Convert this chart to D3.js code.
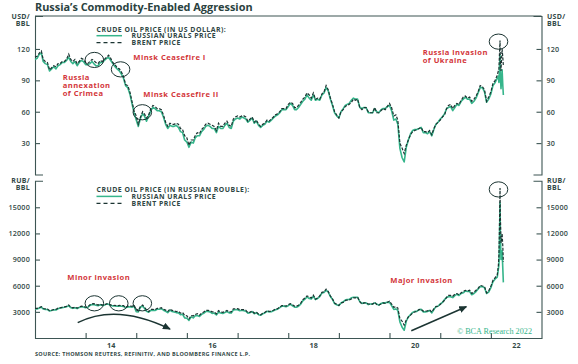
<!DOCTYPE html>
<html>
<head>
<meta charset="utf-8">
<script src="https://cdn.jsdelivr.net/npm/d3@7"></script>
<style>
  body { margin: 0; background: #fff; }
  svg { display: block; font-family: "Open Sans", Lato, sans-serif; }
</style>
</head>
<body>
<div id="chart"></div>
<script>
// semi-monthly observations (1st and 16th of each month), Jan 2013 - Feb 2022
const brentUsd = [
  112,113,116,118,110,108,107,100,102,104,103,106,106,108,108,110,115,110,108,110,106,108,111,110,
  107,106,108,110,109,107,106,109,108,110,112,114,111,107,105,102,101,98,94,86,85,79,70,61,
  56,48,55,60,58,54,57,63,66,65,63,63,62,57,50,46,49,48,48,49,48,44,43,37,
  35,28,33,33,37,40,39,43,45,48,49,48,47,46,42,49,46,46,49,51,47,46,53,55,
  56,55,56,56,55,51,53,55,50,52,48,46,48,49,52,51,53,55,57,58,60,63,63,63,
  67,69,68,64,64,66,69,72,74,78,76,73,78,72,73,72,77,79,85,81,73,67,60,57,
  54,60,62,65,66,67,69,72,71,72,64,62,64,64,60,59,59,64,59,59,61,63,62,65,
  68,64,56,57,52,30,25,20,28,33,38,41,42,43,44,45,41,41,40,42,38,44,48,50,
  52,55,57,63,66,67,63,66,68,67,71,74,75,73,74,70,72,75,79,85,84,81,70,74,
  79,87,90,95
];
const uralsUsd = [
  110,111,115,116,108,106,105,99,101,103,101,104,105,107,107,109,112,108,106,108,104,107,109,108,
  105,105,106,108,106,104,104,107,107,109,111,112,109,106,103,101,99,96,92,85,83,77,68,59,
  52,46,54,58,56,51,56,61,64,63,61,61,60,55,48,44,47,46,46,47,45,41,40,33,
  31,26,31,30,35,37,37,41,43,46,47,46,44,44,40,46,44,44,47,49,45,44,51,53,
  54,53,55,54,53,50,52,54,49,51,47,45,47,48,51,50,52,54,56,57,59,62,62,62,
  65,68,66,62,62,64,67,70,72,76,73,71,76,71,72,71,76,78,83,80,72,66,59,56,
  54,60,63,66,67,68,71,73,72,72,64,63,64,64,59,59,59,63,60,59,62,63,63,65,
  66,61,52,53,48,25,16,12,26,33,39,42,43,43,44,45,40,40,39,41,37,43,48,50,
  53,55,58,63,64,65,61,64,67,66,70,72,74,72,72,68,70,73,78,83,83,79,69,72,
  77,85,88,92
];
const brentRub = [
  3394,3390,3480,3599,3388,3348,3328,3130,3182,3266,3275,3424,3466,3521,3564,3630,3795,3542,3467,3542,3434,3542,3652,3630,
  3531,3562,3802,3905,3946,3873,3784,3880,3780,3806,3920,3933,3796,3724,3738,3672,3737,3724,3713,3500,3655,3674,3640,3782,
  3248,3120,3630,3780,3538,3240,3021,3276,3300,3250,3402,3402,3472,3306,3200,3036,3332,3168,3120,3038,3072,2860,2924,2590,
  2555,2184,2574,2541,2701,2800,2613,2838,2970,3168,3185,3120,3008,2990,2772,3136,2990,2944,3038,3162,3008,2990,3339,3355,
  3360,3245,3248,3248,3190,2907,2968,3080,2850,2964,2736,2668,2832,2940,3120,3060,3074,3190,3306,3364,3540,3717,3717,3654,
  3819,3933,3808,3648,3648,3762,4002,4392,4588,4836,4712,4599,4914,4464,4599,4824,5236,5293,5610,5346,4818,4489,4020,3876,
  3726,4020,4092,4290,4356,4355,4485,4608,4615,4680,4160,3906,4032,4032,3900,3894,3894,4096,3835,3776,3904,4032,3968,4095,
  4216,3904,3528,3591,3432,2220,1925,1480,2072,2409,2622,2870,2982,3053,3256,3285,3075,3075,3120,3234,2964,3344,3600,3650,
  3848,4070,4332,4662,4884,4891,4788,5016,5100,4958,5183,5328,5475,5402,5476,5110,5256,5475,5688,6035,5964,5913,5180,5402,
  5925,6612,6930,7220
];
const uralsRub = [
  3333,3330,3450,3538,3326,3286,3266,3099,3151,3234,3212,3359,3434,3488,3531,3597,3696,3478,3403,3478,3370,3510,3586,3564,
  3465,3528,3731,3834,3837,3765,3713,3809,3745,3771,3885,3864,3728,3689,3667,3636,3663,3648,3634,3460,3569,3581,3536,3658,
  3016,2990,3564,3654,3416,3060,2968,3172,3200,3150,3294,3294,3360,3190,3072,2904,3196,3036,2990,2914,2880,2665,2720,2310,
  2263,2028,2418,2310,2555,2590,2479,2706,2838,3036,3055,2990,2816,2860,2640,2944,2860,2816,2914,3038,2880,2860,3213,3233,
  3240,3127,3190,3132,3074,2850,2912,3024,2793,2907,2679,2610,2773,2880,3060,3000,3016,3132,3248,3306,3481,3658,3658,3596,
  3705,3876,3696,3534,3534,3648,3886,4270,4464,4712,4526,4473,4788,4402,4536,4757,5168,5226,5478,5280,4752,4422,3953,3808,
  3726,4020,4158,4356,4422,4420,4615,4672,4680,4680,4160,3969,4032,4032,3835,3894,3894,4032,3900,3776,3968,4032,4032,4095,
  4092,3721,3276,3339,3168,1850,1232,888,1924,2409,2691,2940,3053,3053,3256,3285,3000,3000,3042,3157,2886,3268,3600,3650,
  3922,4070,4408,4662,4736,4745,4636,4864,5025,4884,5110,5184,5402,5328,5328,4964,5110,5329,5616,5893,5893,5767,5106,5256,
  5775,6460,6776,6992
];

// daily points around the invasion spike
const tailDates = ['2022-02-24','2022-02-28','2022-03-03','2022-03-08','2022-03-10','2022-03-15','2022-03-18','2022-03-23','2022-03-28','2022-04-01'];
const brentUsdTail = [99,100,112,128,110,99,108,120,112,104];
const uralsUsdTail = [94,88,98,114,95,82,88,100,85,76];
const brentRubTail = [8316,9500,11760,17200,14300,10890,11232,12000,10528,8736];
const uralsRubTail = [7896,8360,10290,15500,12350,9020,9152,10000,7990,6384];

const usdTicks = [30, 60, 90, 120];
const rubTicks = [3000, 6000, 9000, 12000, 15000];
const yearTicks = [2014, 2015, 2016, 2017, 2018, 2019, 2020, 2021, 2022];
const yearLabels = [2014, 2016, 2018, 2020, 2022];

const green = '#36b58b';
const dark = '#1b3432';
const axisCol = '#3d5553';
const red = '#d3363a';
const textCol = '#344a48';

const width = 578, height = 364;
const semiDates = brentUsd.map((_, i) =>
  new Date(2013 + Math.floor(i / 24), Math.floor((i % 24) / 2), i % 2 ? 16 : 1));
const dates = semiDates.concat(tailDates.map(d3.timeParse('%Y-%m-%d')));

const toSeries = (main, tail) => main.concat(tail).map((v, i) => ({date: dates[i], v}));

const x = d3.scaleTime()
  .domain([new Date(2013, 0, 1), new Date(2023, 0, 1)])
  .range([35, 541.5]);
const yTop = d3.scaleLinear().domain([0, 151.5]).range([174.5, 16]);
const yBot = d3.scaleLinear().domain([0, 18050]).range([338, 180.7]);

const svg = d3.select('#chart').append('svg')
  .attr('width', width)
  .attr('height', height);

const defs = svg.append('defs');
defs.append('marker')
  .attr('id', 'arrow')
  .attr('markerUnits', 'userSpaceOnUse')
  .attr('markerWidth', 9).attr('markerHeight', 8)
  .attr('refX', 7).attr('refY', 3.5)
  .attr('orient', 'auto')
  .append('path')
  .attr('d', 'M0,0 L8,3.5 L0,7 Z')
  .attr('fill', dark);

// title
svg.append('text')
  .attr('x', 35).attr('y', 11)
  .attr('font-size', 10.9).attr('font-weight', 700)
  .attr('fill', '#2a4240')
  .text('Russia\u2019s Commodity-Enabled Aggression');

function styleAxis(g) {
  g.selectAll('path, line').attr('stroke', axisCol).attr('stroke-width', 1.1);
  g.selectAll('text')
    .attr('fill', textCol)
    .attr('font-size', 7.2)
    .attr('font-weight', 600)
    .attr('letter-spacing', 0.2)
    .attr('font-family', '"Open Sans", sans-serif');
}

function panel(y, ticks, fmt) {
  svg.append('g')
    .attr('transform', `translate(${x.range()[0]},0)`)
    .call(d3.axisLeft(y).tickValues(ticks).tickFormat(fmt)
      .tickSizeInner(-5).tickSizeOuter(-8).tickPadding(5))
    .call(styleAxis);
  svg.append('g')
    .attr('transform', `translate(${x.range()[1]},0)`)
    .call(d3.axisRight(y).tickValues(ticks).tickFormat(fmt)
      .tickSizeInner(-5).tickSizeOuter(-8).tickPadding(5))
    .call(styleAxis);
}

panel(yTop, usdTicks, d3.format('d'));
panel(yBot, rubTicks, d3.format('d'));

// top frame line
svg.append('line')
  .attr('x1', x.range()[0]).attr('x2', x.range()[1])
  .attr('y1', yTop.range()[1]).attr('y2', yTop.range()[1])
  .attr('stroke', axisCol).attr('stroke-width', 1.1);

// x axis
svg.append('g')
  .attr('transform', `translate(0,${yBot.range()[0]})`)
  .call(d3.axisBottom(x).tickValues(yearTicks.map(yr => new Date(yr, 0, 1)))
    .tickFormat('').tickSizeInner(-5).tickSizeOuter(0))
  .call(styleAxis);
svg.append('g')
  .attr('transform', `translate(0,${yBot.range()[0]})`)
  .call(d3.axisBottom(x).tickValues(yearLabels.map(yr => new Date(yr, 6, 1)))
    .tickFormat(d3.timeFormat('%y')).tickSize(0).tickPadding(5))
  .call(styleAxis)
  .call(g => g.select('.domain').remove())
  .call(g => g.selectAll('text').attr('font-weight', 700));

// unit labels
function unitLabel(xp, anchor, y0, lines) {
  lines.forEach((l, i) => svg.append('text')
    .attr('x', xp).attr('y', y0 + i * 7.4)
    .attr('text-anchor', anchor)
    .attr('font-size', 7).attr('font-weight', 700)
    .attr('letter-spacing', 0.3)
    .attr('fill', textCol)
    .text(l));
}
unitLabel(30, 'end', 18.5, ['USD/', 'BBL']);
unitLabel(547, 'start', 18.5, ['USD/', 'BBL']);
unitLabel(30, 'end', 182.5, ['RUB/', 'BBL']);
unitLabel(547, 'start', 182.5, ['RUB/', 'BBL']);

// series
function drawPair(y, urals, brent) {
  const line = d3.line().x(d => x(d.date)).y(d => y(d.v));
  svg.append('path').datum(urals)
    .attr('d', line).attr('fill', 'none')
    .attr('stroke', green).attr('stroke-width', 1.6)
    .attr('stroke-linejoin', 'round');
  svg.append('path').datum(brent)
    .attr('d', line).attr('fill', 'none')
    .attr('stroke', dark).attr('stroke-width', 1.2)
    .attr('stroke-dasharray', '3,1.5');
}
drawPair(yTop, toSeries(uralsUsd, uralsUsdTail), toSeries(brentUsd, brentUsdTail));
drawPair(yBot, toSeries(uralsRub, uralsRubTail), toSeries(brentRub, brentRubTail));

// legends
function legend(y0, title) {
  const g = svg.append('g')
    .attr('font-size', 6.9).attr('font-weight', 700)
    .attr('letter-spacing', 0.5)
    .attr('fill', '#2f4644');
  g.append('text').attr('x', 96.5).attr('y', y0).text(title);
  g.append('line').attr('x1', 96.5).attr('x2', 122).attr('y1', y0 + 4).attr('y2', y0 + 4)
    .attr('stroke', green).attr('stroke-width', 1.5);
  g.append('text').attr('x', 131.5).attr('y', y0 + 6.7).text('RUSSIAN URALS PRICE');
  g.append('line').attr('x1', 96.5).attr('x2', 122).attr('y1', y0 + 11).attr('y2', y0 + 11)
    .attr('stroke', dark).attr('stroke-width', 1.3).attr('stroke-dasharray', '4,3');
  g.append('text').attr('x', 131.5).attr('y', y0 + 13.4).text('BRENT PRICE');
}
legend(31.7, 'CRUDE OIL PRICE (IN US DOLLAR):');
legend(192.4, 'CRUDE OIL PRICE (IN RUSSIAN ROUBLE):');

// event circles
const topCircles = [['2014-03-05', 109.5], ['2014-09-10', 100.5], ['2015-02-14', 59.5], ['2022-02-25', 127]];
const botCircles = [['2014-03-05', 3980], ['2014-08-28', 3980], ['2015-02-14', 3980], ['2022-02-25', 17050]];
const parse = d3.timeParse('%Y-%m-%d');
function circles(list, y) {
  svg.selectAll(null).data(list).enter().append('ellipse')
    .attr('cx', d => x(parse(d[0])))
    .attr('cy', d => y(d[1]))
    .attr('rx', 9.3).attr('ry', 7.6)
    .attr('fill', 'none').attr('stroke', dark).attr('stroke-width', 1);
}
circles(topCircles, yTop);
circles(botCircles, yBot);

// red annotations
function note(xp, y0, lines) {
  lines.forEach((l, i) => svg.append('text')
    .attr('x', xp).attr('y', y0 + i * 7.8)
    .attr('font-size', 7.6).attr('font-weight', 700)
    .attr('letter-spacing', 0.45)
    .attr('fill', red)
    .text(l));
}
note(133.3, 60, ['Minsk Ceasefire I']);
note(62.7, 80, ['Russia', 'annexation', 'of Crimea']);
note(143.3, 96.8, ['Minsk Ceasefire II']);
note(422.7, 55, ['Russia invasion', 'of Ukraine']);
note(67.3, 280, ['Minor invasion']);
note(390.3, 283, ['Major invasion']);

// arrows
svg.append('path')
  .attr('d', 'M77.7,322.7 Q116,303 170,329')
  .attr('fill', 'none').attr('stroke', dark).attr('stroke-width', 1.5)
  .attr('marker-end', 'url(#arrow)');
svg.append('path')
  .attr('d', 'M411.3,330.7 L466.3,306.7')
  .attr('fill', 'none').attr('stroke', dark).attr('stroke-width', 1.5)
  .attr('marker-end', 'url(#arrow)');

// credits
svg.append('text')
  .attr('x', 532).attr('y', 334.2)
  .attr('text-anchor', 'end')
  .attr('font-family', '"Liberation Serif", "DejaVu Serif", serif')
  .attr('font-size', 8.2)
  .attr('fill', green)
  .text('\u00a9 BCA Research 2022');
svg.append('text')
  .attr('x', 35).attr('y', 355.5)
  .attr('font-size', 5.5).attr('font-weight', 700)
  .attr('letter-spacing', 0.3)
  .attr('fill', textCol)
  .text('SOURCE: THOMSON REUTERS, REFINITIV, AND BLOOMBERG FINANCE L.P.');
</script>
</body>
</html>
